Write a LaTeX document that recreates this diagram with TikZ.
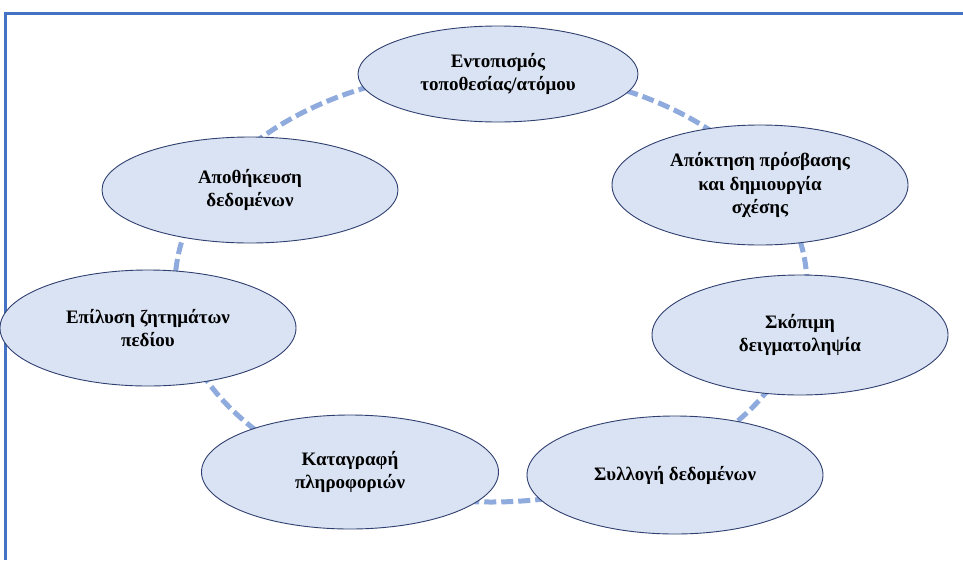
\documentclass[tikz,border=0pt]{standalone}
\usepackage{fontspec}
\setmainfont{Liberation Serif}
\usetikzlibrary{shapes.geometric}
\definecolor{framecol}{HTML}{4472C4}
\definecolor{ringcol}{HTML}{8FAADC}
\definecolor{fillcol}{HTML}{DAE3F3}
\definecolor{edgecol}{HTML}{2F3F6F}
\tikzset{
  stage/.style={ellipse, draw=edgecol, line width=0.9pt, fill=fillcol, inner sep=0pt,
    align=center, font=\fontsize{19}{23.5}\selectfont\bfseries},
  ring/.style={draw=ringcol, line width=5pt, dash pattern=on 12pt off 5pt},
  framebar/.style={draw=framecol, line width=3pt}
}
\begin{document}
\begin{tikzpicture}[x=1pt,y=-1pt]
\useasboundingbox (0,0) rectangle (963,560);
\coordinate (ftl) at (5,13);
\coordinate (ftr) at (963,13);
\coordinate (fbl) at (5,560);
\draw[framebar] (ftr) -- (ftl) -- (fbl);
\coordinate (rc) at (491,286);
\draw[ring] (rc) ellipse [x radius=316pt, y radius=216pt];
\node[stage, minimum width=280pt, minimum height=96pt] (a) at (498,74) {Εντοπισμός\\τοποθεσίας/ατόμου};
\node[stage, minimum width=296pt, minimum height=120pt] (b) at (760,185) {Απόκτηση πρόσβασης\\και δημιουργία\\σχέσης};
\node[stage, minimum width=296pt, minimum height=120pt] (c) at (800,335) {Σκόπιμη\\δειγματοληψία};
\node[stage, minimum width=296pt, minimum height=118pt] (d) at (675,475) {Συλλογή δεδομένων};
\node[stage, minimum width=297pt, minimum height=114pt] (e) at (350,472) {Καταγραφή\\πληροφοριών};
\node[stage, minimum width=296pt, minimum height=116pt] (f) at (148,328) {Επίλυση ζητημάτων\\πεδίου};
\node[stage, minimum width=296pt, minimum height=106pt] (g) at (250,190) {Αποθήκευση\\δεδομένων};
\end{tikzpicture}
\end{document}
